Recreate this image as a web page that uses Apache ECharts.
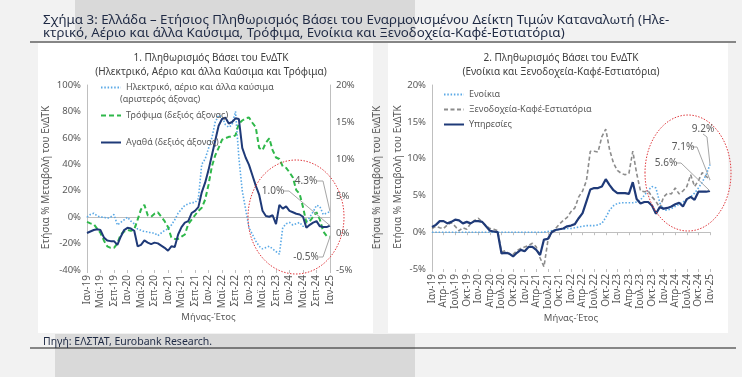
<!DOCTYPE html>
<html><head><meta charset="utf-8">
<script src="https://cdn.jsdelivr.net/npm/echarts@6/dist/echarts.min.js"></script>
<style>html,body{margin:0;padding:0;background:#f2f2f2;}#c{width:742px;height:377px;}</style>
</head><body><div id="c"></div>
<script>
// ---- data ----
const monthNames = ['Ιαν','Φεβ','Μαρ','Απρ','Μαϊ','Ιουν','Ιουλ','Αυγ','Σεπ','Οκτ','Νοε','Δεκ'];
const yearLabels = ['19','20','21','22','23','24','25'];
const categories = [];
yearLabels.forEach(function (y, yi) {
  monthNames.forEach(function (m, mi) {
    if (yi < yearLabels.length - 1 || mi === 0) categories.push(m + '-' + y);
  });
});
// Chart 1 (left axis): electricity, gas & other fuels
const electricity = [0,2,3,1,0,0,-1,0,2,-6,-4,-2,0,
  -3,-5,-9,-10,-11,-11,-12,-12,-14,-12,-10,-9,
  -6,-2,3,6,9,10,11,11,14,40,44,52,
  60,72,77,76,70,68,70,80,45,20,6,-8,
  -13,-18,-22,-24,-23,-22,-24,-26,-28,-8,-5,-4,
  -6,-5,-4,-7,-4,0,4,9,8,2,3,4.3];
// Chart 1 (right axis): food
const food = [1.5,1.3,1.2,0.6,0,-1.0,-1.8,-2.0,-2.0,-1.4,-0.2,0.2,0.4,
  0.3,0.5,1.8,3.2,3.8,2.4,2.2,2.6,2.8,2.2,1.6,0.8,
  -0.6,-0.8,-0.8,-0.5,-0.2,1.2,1.8,2.4,3.0,3.4,4.5,6.5,
  9.0,10.5,11.5,12.6,12.8,13.0,13.0,13.2,14.8,15.2,15.5,15.6,
  14.9,14.3,11.5,11.2,12.2,12.8,11.2,10.2,10.0,9.0,8.8,8.2,
  7.5,5.8,5.3,3.5,1.4,1.6,2.2,2.8,1.8,0.2,-0.4,-0.5];
// Chart 1 (right axis): goods
const goods = [0.0,0.2,0.4,0.5,0.4,-0.6,-1.0,-1.1,-1.1,-1.6,-0.5,0.4,0.7,
  0.6,0.3,-1.8,-1.6,-1.0,-1.3,-1.5,-1.3,-1.4,-1.7,-2.0,-2.4,
  -1.8,-1.9,-0.2,0.8,1.4,1.6,2.7,3.0,3.5,5.5,6.8,8.5,
  10.5,12.5,14.5,15.4,15.6,14.8,15.0,15.5,15.4,11.5,10.2,9.2,
  7.8,6.4,5.2,3.0,2.3,2.2,2.4,1.2,3.8,3.3,3.6,3.0,
  2.8,2.6,2.5,2.2,0.7,1.1,1.4,1.6,0.9,0.8,0.8,1.0];
// Chart 2: rents
const rents = [0,0,0,0,0,0,0,0,0,0,0,0,0,0,0,0,0,0,0,0,0,0,0,0,0,0,0,0,0,0,
  0.1,0.2,0.3,0.4,0.4,0.5,0.5,0.6,0.7,0.8,0.9,0.9,0.9,1.0,1.2,
  2.0,3.0,3.6,3.9,4.0,4.0,4.0,4.0,4.1,4.4,5.0,5.7,6.2,6.0,4.0,3.0,3.0,3.2,3.5,3.8,4.1,4.4,4.8,5.3,6.0,6.8,7.8,9.2];
// Chart 2: hotels-cafés-restaurants
const hotels = [0.5,0.8,0.6,0.5,1.0,1.3,0.8,0.2,0.6,0.4,1.2,1.6,1.9,
  1.4,0.9,0.5,0.4,0.2,-2.7,-2.5,-3.0,-3.0,-2.5,-2.2,-2.0,
  -1.8,-1.5,-2.0,-3.5,-4.7,-1.2,0.0,0.5,1.1,1.6,2.0,2.8,
  3.3,4.8,5.6,7.0,11.0,11.0,10.9,13.0,14.0,11.2,9.4,8.4,
  8.0,7.8,8.0,11.0,8.0,5.6,5.5,5.6,4.8,4.2,3.3,4.8,
  5.3,5.2,6.0,5.2,5.6,6.2,7.8,6.2,7.0,8.1,7.6,7.1];
// Chart 2: services
const services = [0.7,1.0,1.5,1.5,1.2,1.4,1.7,1.6,1.2,1.4,1.2,1.5,1.5,
  1.4,0.8,0.2,0.1,0.0,-2.9,-2.8,-2.9,-3.3,-2.8,-2.4,-2.6,
  -2.0,-2.0,-2.4,-3.1,-1.0,-0.9,0.0,0.3,0.4,0.5,0.8,0.9,
  1.1,1.9,2.6,4.2,5.8,6.0,6.0,6.2,7.2,6.4,5.7,5.3,5.3,5.3,5.2,
  6.8,4.5,3.9,4.1,4.1,3.6,2.5,3.4,3.2,3.3,3.5,3.8,4.0,3.5,4.5,4.8,4.4,5.5,5.5,5.5,5.6];
// annotation labels
const endLabels1 = ['1.0%','4.3%','-0.5%'];
const endLabels2 = ['9.2%','7.1%','5.6%'];

const names = {
  el: 'Ηλεκτρικό, αέριο και άλλα καύσιμα',
  food: 'Τρόφιμα (δεξιός άξονας)',
  goods: 'Αγαθά (δεξιός άξονας)',
  rent: 'Ενοίκια',
  hotel: 'Ξενοδοχεία-Καφέ-Εστιατόρια',
  serv: 'Υπηρεσίες'
};
const yName = 'Ετήσια % Μεταβολή του ΕνΔΤΚ';
const FONT = '"Liberation Sans Narrow", "Noto Sans", sans-serif';
const TFONT = '"Noto Sans", sans-serif';
const AX = '#595959';
const LINEC = '#bfbfbf';

const chart = echarts.init(document.getElementById('c'), null, {renderer: 'canvas'});

function labelAxis(grid, interval, nameText) {
  return {
    type: 'category', gridIndex: grid, data: categories, boundaryGap: false, position: 'bottom',
    axisLine: {show: false, onZero: false},
    axisTick: {show: true, interval: interval, length: 3, lineStyle: {color: LINEC}},
    axisLabel: {interval: interval, rotate: 90, fontSize: 10, color: AX, fontFamily: FONT, margin: 5},
    name: nameText, nameLocation: 'middle', nameGap: 38,
    nameTextStyle: {fontSize: 9.5, color: AX, fontFamily: FONT},
    splitLine: {show: false}
  };
}
function zeroAxis(grid, ticks, interval) {
  return {
    type: 'category', gridIndex: grid, data: categories, boundaryGap: false, position: 'bottom',
    axisLine: {show: true, onZero: true, lineStyle: {color: LINEC, width: 1}},
    axisTick: {show: ticks, interval: interval, length: 3, lineStyle: {color: LINEC}},
    axisLabel: {show: false}, splitLine: {show: false}
  };
}
function valAxis(grid, pos, min, max, interval, gap) {
  return {
    type: 'value', gridIndex: grid, position: pos, min: min, max: max, interval: interval,
    axisLine: {show: true, lineStyle: {color: LINEC}},
    axisTick: {show: false},
    splitLine: {show: false},
    axisLabel: {formatter: '{value}%', fontSize: 9.5, color: AX, fontFamily: FONT, margin: 6},
    name: yName, nameLocation: 'middle', nameRotate: 90, nameGap: gap,
    nameTextStyle: {fontSize: 10, color: AX, fontFamily: FONT}
  };
}
const legendText = {fontSize: 9, color: AX, fontFamily: TFONT};
const legendCommon = {itemWidth: 20, itemHeight: 10, textStyle: legendText, itemStyle: {opacity: 0}};

const option = {
  animation: false,
  backgroundColor: '#f2f2f2',
  textStyle: {fontFamily: FONT},
  title: [
    {text: 'Σχήμα 3: Ελλάδα – Ετήσιος Πληθωρισμός Βάσει του Εναρμονισμένου Δείκτη Τιμών Καταναλωτή (Ηλε-\nκτρικό, Αέριο και άλλα Καύσιμα, Τρόφιμα, Ενοίκια και Ξενοδοχεία-Καφέ-Εστιατόρια)',
     left: 38, top: 9, textStyle: {fontSize: 13.3, fontWeight: 'normal', color: '#1f2a44', fontFamily: TFONT, lineHeight: 13}},
    {text: '1. Πληθωρισμός Βάσει του ΕνΔΤΚ\n(Ηλεκτρικό, Αέριο και άλλα Καύσιμα και Τρόφιμα)',
     left: 206, top: 46, textAlign: 'center', textStyle: {fontSize: 10, fontWeight: 'normal', color: '#404040', fontFamily: TFONT, lineHeight: 14}},
    {text: '2. Πληθωρισμός Βάσει του ΕνΔΤΚ\n(Ενοίκια και Ξενοδοχεία-Καφέ-Εστιατόρια)',
     left: 556, top: 46, textAlign: 'center', textStyle: {fontSize: 10, fontWeight: 'normal', color: '#404040', fontFamily: TFONT, lineHeight: 14}},
    {text: 'Πηγή: ΕΛΣΤΑΤ, Eurobank Research.', left: 38, top: 332,
     textStyle: {fontSize: 10.5, fontWeight: 'normal', color: '#1f2a44', fontFamily: TFONT}}
  ],
  grid: [
    {left: 87, top: 85, width: 243, height: 185, containLabel: false},
    {left: 432, top: 85, width: 278, height: 184, containLabel: false}
  ],
  xAxis: [labelAxis(0, 3, 'Μήνας-Έτος'), zeroAxis(0, false, 3), labelAxis(1, 2, 'Μήνας-Έτος'), zeroAxis(1, true, 2)],
  yAxis: [valAxis(0, 'left', -40, 100, 20, 36), valAxis(0, 'right', -5, 20, 5, 42), valAxis(1, 'left', -5, 20, 5, 26)],
  legend: [
    Object.assign({data: [names.el], left: 95, top: 78}, legendCommon),
    Object.assign({data: [names.food], left: 95, top: 106}, legendCommon),
    Object.assign({data: [names.goods], left: 95, top: 133}, legendCommon),
    Object.assign({data: [names.rent, names.hotel, names.serv], left: 438, top: 85, orient: 'vertical', itemGap: 6}, legendCommon)
  ],
  series: [
    {name: names.el, type: 'line', xAxisIndex: 0, yAxisIndex: 0, data: electricity, symbol: 'none',
     lineStyle: {color: '#5aa9e6', width: 1.6, type: [1.5, 1.8]}, itemStyle: {color: '#5aa9e6'}},
    {name: names.food, type: 'line', xAxisIndex: 0, yAxisIndex: 1, data: food, symbol: 'none',
     lineStyle: {color: '#2fb84a', width: 2, type: [5, 3]}, itemStyle: {color: '#2fb84a'}},
    {name: names.goods, type: 'line', xAxisIndex: 0, yAxisIndex: 1, data: goods, symbol: 'none',
     lineStyle: {color: '#1f3a78', width: 2}, itemStyle: {color: '#1f3a78'}},
    {name: names.rent, type: 'line', xAxisIndex: 2, yAxisIndex: 2, data: rents, symbol: 'none',
     lineStyle: {color: '#5aa9e6', width: 1.6, type: [1.5, 1.8]}, itemStyle: {color: '#5aa9e6'}},
    {name: names.hotel, type: 'line', xAxisIndex: 2, yAxisIndex: 2, data: hotels, symbol: 'none',
     lineStyle: {color: '#8c8c8c', width: 1.6, type: [4, 2.5]}, itemStyle: {color: '#8c8c8c'}},
    {name: names.serv, type: 'line', xAxisIndex: 2, yAxisIndex: 2, data: services, symbol: 'none',
     lineStyle: {color: '#1f3a78', width: 2.2}, itemStyle: {color: '#1f3a78'}}
  ]
};
chart.setOption(option);

// ---- decorations (panels, rules, ellipses, end annotations) ----
const last = categories.length - 1;
function pt(si, v) { return chart.convertToPixel({seriesIndex: si}, [last, v]); }
const AFONT = '10px "Liberation Sans Narrow", "Noto Sans", sans-serif';
const LFONT = '9px "Noto Sans", sans-serif';
const g = [
  {type: 'rect', z: -10, shape: {x: 75, y: 0, width: 340, height: 40}, style: {fill: '#d9d9d9'}, silent: true},
  {type: 'rect', z: -10, shape: {x: 55, y: 334, width: 360, height: 43}, style: {fill: '#d9d9d9'}, silent: true},
  {type: 'line', z: -9, shape: {x1: 30, y1: 42, x2: 736, y2: 42}, style: {stroke: '#1a1a1a', lineWidth: 1}, silent: true},
  {type: 'line', z: -9, shape: {x1: 30, y1: 348, x2: 736, y2: 348}, style: {stroke: '#1a1a1a', lineWidth: 1}, silent: true},
  {type: 'rect', z: -8, shape: {x: 38, y: 43, width: 335, height: 290}, style: {fill: '#ffffff'}, silent: true},
  {type: 'rect', z: -8, shape: {x: 388, y: 43, width: 340, height: 290}, style: {fill: '#ffffff'}, silent: true},
  {type: 'text', z: 10, x: 120, y: 95, style: {text: '(αριστερός άξονας)', font: LFONT, fill: AX}, silent: true},
  {type: 'ellipse', z: 20, shape: {cx: 296, cy: 217, rx: 48, ry: 57}, style: {fill: 'none', stroke: '#e0393e', lineWidth: 1, lineDash: [1.5, 1.5]}, silent: true},
  {type: 'ellipse', z: 20, shape: {cx: 688, cy: 173, rx: 43, ry: 58}, style: {fill: 'none', stroke: '#e0393e', lineWidth: 1, lineDash: [1.5, 1.5]}, silent: true}
];
function annot(text, tx, ty, elbow, p) {
  g.push({type: 'text', z: 30, x: tx, y: ty, style: {text: text, font: AFONT, fill: AX, align: 'center', verticalAlign: 'middle'}, silent: true});
  g.push({type: 'polyline', z: 25, shape: {points: [elbow[0], elbow[1], p]}, style: {stroke: '#a6a6a6', lineWidth: 1, fill: 'none'}, silent: true});
}
const pG = pt(2, goods[last]), pE = pt(0, electricity[last]), pF = pt(1, food[last]);
annot(endLabels1[0], 273, 191, [[284, 191], [289, 191]], pG);
annot(endLabels1[1], 306, 181, [[317, 181], [323, 181]], pE);
annot(endLabels1[2], 306, 257, [[319, 257], [323, 257]], pF);
const pR = pt(3, rents[last]), pH = pt(4, hotels[last]), pS = pt(5, services[last]);
annot(endLabels2[0], 703, 129, [[703, 134], [707, 137]], pR);
annot(endLabels2[1], 683, 147, [[692, 147], [697, 147]], pH);
annot(endLabels2[2], 666, 163, [[676, 163], [681, 163]], pS);
chart.setOption({graphic: g});
</script></body></html>
